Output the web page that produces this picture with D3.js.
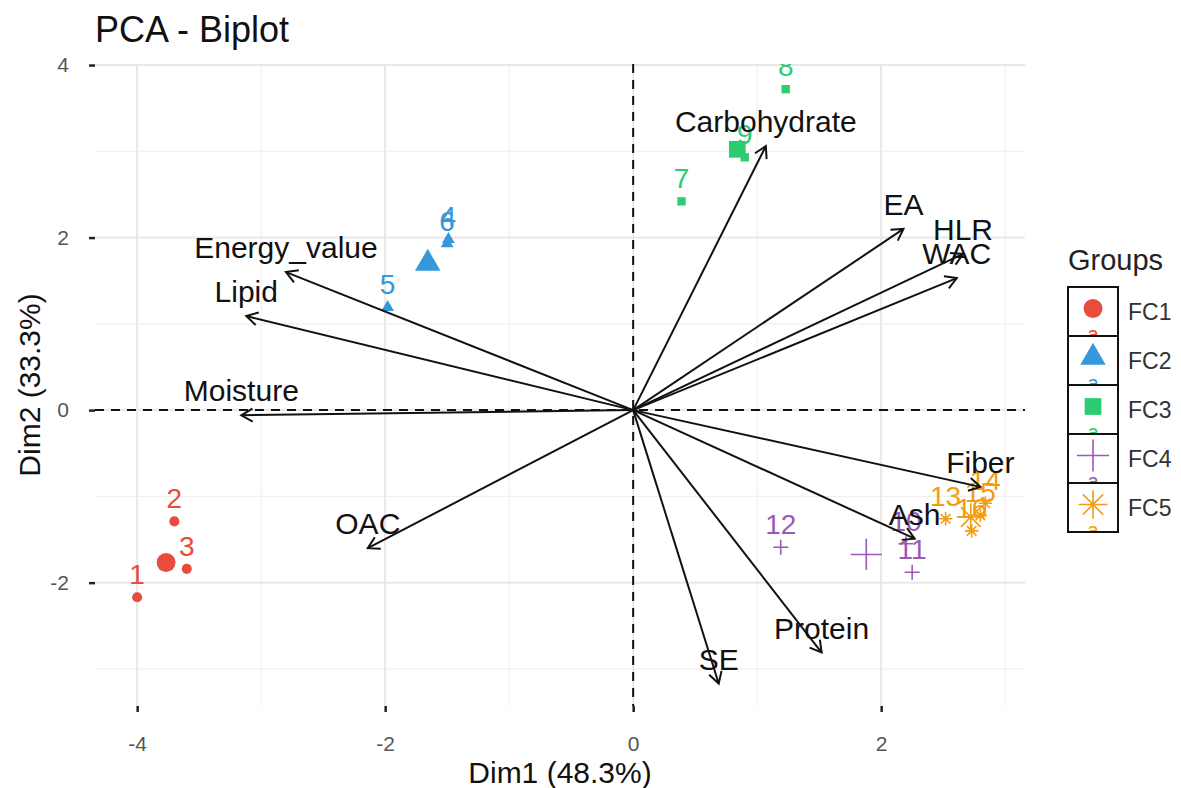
<!DOCTYPE html>
<html lang="en">
<head>
<meta charset="UTF-8">
<title>PCA - Biplot</title>
<script src="https://cdn.jsdelivr.net/npm/d3@7"></script>
<style>
    body { margin: 0; background: #fff; font-family: 'Liberation Sans', Arial, sans-serif; }
    svg text { font-family: 'Liberation Sans', Arial, sans-serif; }
</style>
</head>
<body>
<svg id="chart" width="1181" height="788"></svg>
<script>
    // individuals (scores on Dim1 / Dim2)
    const indNames = ["1", "2", "3", "4", "5", "6", "7", "8", "9", "10", "11", "12", "13", "14", "15", "16"];
    const indGroups = ["FC1", "FC1", "FC1", "FC2", "FC2", "FC2", "FC3", "FC3", "FC3", "FC4", "FC4", "FC4", "FC5", "FC5", "FC5", "FC5"];
    const indDim1 = [-4.00, -3.70, -3.60, -1.49, -1.98, -1.50, 0.39, 1.23, 0.90, 2.20, 2.25, 1.19, 2.52, 2.84, 2.80, 2.73];
    const indDim2 = [-2.17, -1.29, -1.84, 1.98, 1.19, 1.93, 2.42, 3.72, 2.93, -1.55, -1.88, -1.59, -1.26, -1.08, -1.22, -1.40];

    // variables (arrow tips)
    const varNames = ["Carbohydrate", "EA", "HLR", "WAC", "Energy_value", "Lipid", "Moisture", "OAC", "SE", "Protein", "Ash", "Fiber"];
    const varDim1 = [1.07, 2.18, 2.66, 2.61, -2.80, -3.12, -3.16, -2.14, 0.69, 1.52, 2.27, 2.80];
    const varDim2 = [3.06, 2.10, 1.81, 1.53, 1.60, 1.09, -0.06, -1.60, -3.17, -2.81, -1.49, -0.89];

    const groups = ["FC1", "FC2", "FC3", "FC4", "FC5"];
    const groupColors = ["#e74c3c", "#3498db", "#2ecc71", "#9b59b6", "#f39c12"];
    const groupShapes = [d3.symbolCircle, d3.symbolTriangle, d3.symbolSquare, "plus", "asterisk"];

    const xTicks = [-4, -2, 0, 2];
    const yTicks = [-2, 0, 2, 4];
    const xMinor = [-3, -1, 1, 3];
    const yMinor = [-3, -1, 1, 3];

    const svg = d3.select("#chart");
    const panel = { left: 95, right: 1025, top: 64, bottom: 706 };

    const x = d3.scaleLinear().domain([-4.34, 3.16]).range([panel.left, panel.right]);
    const y = d3.scaleLinear().domain([-3.43, 4.012]).range([panel.bottom, panel.top]);
    const color = d3.scaleOrdinal().domain(groups).range(groupColors);
    const shape = d3.scaleOrdinal().domain(groups).range(groupShapes);

    svg.append("defs").append("clipPath").attr("id", "panelClip")
        .append("rect")
        .attr("x", panel.left).attr("y", panel.top)
        .attr("width", panel.right - panel.left).attr("height", panel.bottom - panel.top);

    // grid
    const grid = svg.append("g");
    grid.selectAll(".vmin").data(xMinor).enter().append("line")
        .attr("x1", d => x(d)).attr("x2", d => x(d))
        .attr("y1", panel.top).attr("y2", panel.bottom)
        .attr("stroke", "#f0f0f0").attr("stroke-width", 1.2);
    grid.selectAll(".hmin").data(yMinor).enter().append("line")
        .attr("y1", d => y(d)).attr("y2", d => y(d))
        .attr("x1", panel.left).attr("x2", panel.right)
        .attr("stroke", "#f0f0f0").attr("stroke-width", 1.2);
    grid.selectAll(".vmaj").data(xTicks).enter().append("line")
        .attr("x1", d => x(d)).attr("x2", d => x(d))
        .attr("y1", panel.top).attr("y2", panel.bottom)
        .attr("stroke", "#e8e8e8").attr("stroke-width", 2);
    grid.selectAll(".hmaj").data(yTicks).enter().append("line")
        .attr("y1", d => y(d)).attr("y2", d => y(d))
        .attr("x1", panel.left).attr("x2", panel.right)
        .attr("stroke", "#e8e8e8").attr("stroke-width", 2);

    // dashed zero lines
    svg.append("line")
        .attr("x1", x(0)).attr("x2", x(0)).attr("y1", panel.top).attr("y2", panel.bottom)
        .attr("stroke", "#111").attr("stroke-width", 2).attr("stroke-dasharray", "9,7");
    svg.append("line")
        .attr("y1", y(0)).attr("y2", y(0)).attr("x1", panel.left).attr("x2", panel.right)
        .attr("stroke", "#111").attr("stroke-width", 2).attr("stroke-dasharray", "9,7");

    // axes
    const xAxis = svg.append("g")
        .attr("transform", `translate(0,${panel.bottom})`)
        .call(d3.axisBottom(x).tickValues(xTicks).tickSize(6).tickPadding(24).tickFormat(d3.format("d")));
    const yAxis = svg.append("g")
        .attr("transform", `translate(${panel.left},0)`)
        .call(d3.axisLeft(y).tickValues(yTicks).tickSize(6).tickPadding(20).tickFormat(d3.format("d")));
    [xAxis, yAxis].forEach(a => {
        a.select(".domain").remove();
        a.selectAll(".tick line").attr("stroke", "#222").attr("stroke-width", 2.5);
        a.selectAll(".tick text").attr("fill", "#555").style("font-size", "21px");
        a.selectAll(".tick text").text(d => d < 0 ? "-" + Math.abs(d) : d);
    });

    const plot = svg.append("g").attr("clip-path", "url(#panelClip)");

    function symbolPath(s, size) {
        if (s === "plus") {
            const r = Math.sqrt(size) * 0.9;
            return `M${-r},0L${r},0M0,${-r}L0,${r}`;
        }
        if (s === "asterisk") {
            const r = Math.sqrt(size) * 0.8;
            let p = "";
            for (let k = 0; k < 4; k++) {
                const a = k * Math.PI / 4;
                p += `M${-r * Math.cos(a)},${-r * Math.sin(a)}L${r * Math.cos(a)},${r * Math.sin(a)}`;
            }
            return p;
        }
        return d3.symbol().type(s).size(size)();
    }
    function drawSymbol(sel, g, size) {
        const s = shape(g);
        const open = (s === "plus" || s === "asterisk");
        sel.attr("d", symbolPath(s, size))
            .attr("fill", open ? "none" : color(g))
            .attr("stroke", open ? color(g) : "none")
            .attr("stroke-width", open ? 1.6 : 0);
    }

    const inds = indNames.map((n, i) => ({ name: n, group: indGroups[i], d1: indDim1[i], d2: indDim2[i] }));

    // individual points
    inds.forEach(d => {
        plot.append("path")
            .attr("transform", `translate(${x(d.d1)},${y(d.d2)})`)
            .call(drawSymbol, d.group, d.group === "FC1" ? 80 : 70);
    });

    // group mean points
    groups.forEach(g => {
        const mem = inds.filter(d => d.group === g);
        const mx = d3.mean(mem, d => d.d1), my = d3.mean(mem, d => d.d2);
        plot.append("path")
            .attr("transform", `translate(${x(mx)},${y(my)})`)
            .call(drawSymbol, g, g === "FC4" || g === "FC5" ? 300 : 280);
    });

    // individual labels
    plot.selectAll(".indLabel").data(inds).enter().append("text")
        .attr("x", d => x(d.d1)).attr("y", d => y(d.d2) - 13)
        .attr("text-anchor", "middle")
        .attr("fill", d => color(d.group))
        .style("font-size", "28px")
        .text(d => d.name);

    // variable arrows
    const vars = varNames.map((n, i) => ({ name: n, d1: varDim1[i], d2: varDim2[i] }));
    const arrows = plot.append("g");
    vars.forEach(v => {
        const x0 = x(0), y0 = y(0), x1 = x(v.d1), y1 = y(v.d2);
        const ang = Math.atan2(y1 - y0, x1 - x0);
        const hl = 13, ha = Math.PI / 6;
        arrows.append("line")
            .attr("x1", x0).attr("y1", y0).attr("x2", x1).attr("y2", y1)
            .attr("stroke", "#111").attr("stroke-width", 2);
        arrows.append("path")
            .attr("d", `M${x1 - hl * Math.cos(ang - ha)},${y1 - hl * Math.sin(ang - ha)}L${x1},${y1}L${x1 - hl * Math.cos(ang + ha)},${y1 - hl * Math.sin(ang + ha)}`)
            .attr("fill", "none").attr("stroke", "#111").attr("stroke-width", 2);
    });
    plot.selectAll(".varLabel").data(vars).enter().append("text")
        .attr("x", d => x(d.d1)).attr("y", d => y(d.d2) - 14)
        .attr("text-anchor", "middle")
        .attr("fill", "#111")
        .style("font-size", "30px")
        .text(d => d.name);

    // titles
    svg.append("text").attr("x", 95).attr("y", 42)
        .attr("fill", "#111").style("font-size", "36px").text("PCA - Biplot");
    svg.append("text").attr("x", (panel.left + panel.right) / 2).attr("y", 783)
        .attr("text-anchor", "middle").attr("fill", "#111").style("font-size", "30px")
        .text("Dim1 (48.3%)");
    svg.append("text")
        .attr("transform", `translate(40,${(panel.top + panel.bottom) / 2}) rotate(-90)`)
        .attr("text-anchor", "middle").attr("fill", "#111").style("font-size", "30px")
        .text("Dim2 (33.3%)");

    // legend
    const leg = svg.append("g").attr("transform", "translate(1068,0)");
    leg.append("text").attr("x", 0).attr("y", 270)
        .attr("fill", "#222").style("font-size", "29px").text("Groups");
    const keyW = 50, keyH = 49, keyTop = 287;
    groups.forEach((g, i) => {
        const ky = keyTop + i * keyH;
        leg.append("clipPath").attr("id", "key" + i)
            .append("rect").attr("x", 0).attr("y", ky).attr("width", keyW).attr("height", keyH);
        leg.append("text").attr("x", keyW / 2).attr("y", ky + keyH + 5)
            .attr("text-anchor", "middle").attr("fill", color(g))
            .attr("clip-path", `url(#key${i})`)
            .style("font-size", "20px").text("a");
        leg.append("path")
            .attr("transform", `translate(${keyW / 2},${ky + keyH / 2 - 3})`)
            .call(drawSymbol, g, g === "FC4" || g === "FC5" ? 320 : 280);
        leg.append("rect").attr("x", 0).attr("y", ky).attr("width", keyW).attr("height", keyH)
            .attr("fill", "none").attr("stroke", "#111").attr("stroke-width", 2);
        leg.append("text").attr("x", keyW + 10).attr("y", ky + keyH / 2 + 8)
            .attr("fill", "#333").style("font-size", "23px").text(g);
    });
</script>
</body>
</html>
